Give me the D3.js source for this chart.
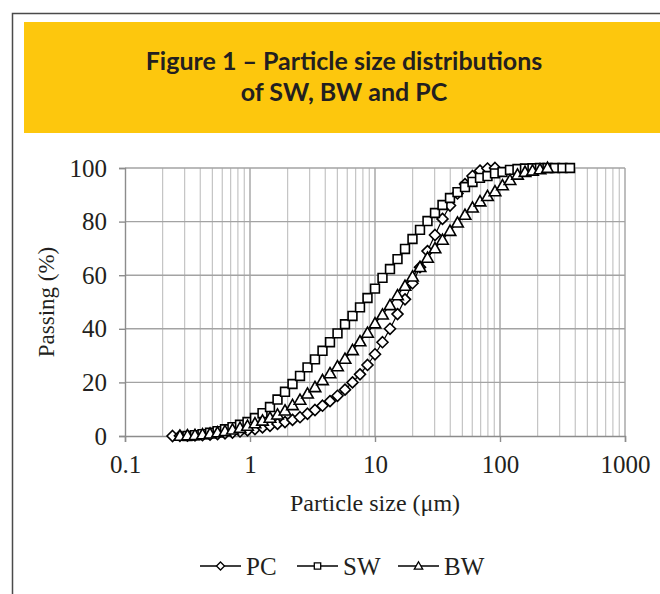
<!DOCTYPE html>
<html>
<head>
<meta charset="utf-8">
<script src="https://cdn.jsdelivr.net/npm/d3@7"></script>
<style>
  body { margin: 0; background: #fff; }
  svg { display: block; }
</style>
</head>
<body>
<svg id="chart"></svg>
<script>
// particle sizes (um), one row per measurement channel
const sizes = [0.240,0.275,0.316,0.363,0.417,0.479,0.550,0.631,0.724,0.832,
  0.955,1.096,1.259,1.445,1.660,1.905,2.188,2.512,2.884,3.311,
  3.802,4.365,5.012,5.754,6.607,7.586,8.710,10.00,11.48,13.18,
  15.14,17.38,19.95,22.91,26.30,30.20,34.67,39.81,45.71,52.48,
  60.26,69.18,79.43,91.20,104.7,120.2,138.0,158.5,182.0,208.9,
  239.9,275.4,316.2,363.1];

// cumulative passing (%), null where the series has no point
const pc = [0,0.05,0.1,0.2,0.3,0.5,0.7,1.0,1.3,1.7,
  2.1,2.6,3.2,3.8,4.5,5.2,6.0,7.0,8.3,9.7,
  11.3,13.0,15.0,17.3,20.0,23.0,26.5,30.5,35.0,40.0,
  45.5,51.0,57.0,63.0,69.0,75.0,81.0,86.0,90.5,94.0,
  97.0,99.0,99.8,100,null,null,null,null,null,null,
  null,null,null,null];
const sw = [null,null,0,0.3,0.7,1.2,1.8,2.5,3.3,4.2,
  5.2,6.7,8.5,10.8,13.6,16.5,19.4,22.4,25.6,28.6,
  31.8,35.0,38.3,41.7,44.8,48.0,51.5,55.0,59.0,62.3,
  66.0,69.8,73.5,76.9,80.2,83.2,86.2,88.8,91.0,92.9,
  94.8,96.3,97.0,98.0,98.5,99.3,99.6,99.8,99.9,100,
  100,100,100,100];
const bw = [null,0.05,0.2,0.35,0.6,0.9,1.3,1.8,2.4,3.0,
  3.8,4.7,5.7,6.8,8.0,9.5,11.5,13.5,15.8,18.2,
  20.8,23.4,26.0,28.8,32.0,35.3,38.5,42.0,45.3,48.8,
  52.5,56.0,59.5,63.0,66.5,70.0,73.2,76.5,79.6,82.5,
  85.2,87.5,89.5,91.3,93.5,95.5,97.5,98.5,99.0,99.5,
  100,null,null,null];

const seriesNames = ['PC', 'SW', 'BW'];
const seriesShapes = ['diamond', 'square', 'triangle'];
const xTicks = [0.1, 1, 10, 100, 1000];
const yTicks = [0, 20, 40, 60, 80, 100];
const titleLines = ['Figure 1 \u2013 Particle size distributions', 'of SW, BW and PC'];

class SizeChart {
  constructor(_config) {
    this.config = {
      parentElement: _config.parentElement,
      containerWidth: _config.containerWidth || 660,
      containerHeight: _config.containerHeight || 594,
      margin: { top: 168, bottom: 158, right: 35, left: 125 }
    };
    this.series = seriesNames.map((name, i) => ({
      name: name,
      shape: seriesShapes[i],
      values: [pc, sw, bw][i]
        .map((v, j) => ({ x: sizes[j], y: v }))
        .filter(d => d.y !== null)
    }));
    this.initVis();
  }

  symbolPath(shape, r) {
    if (shape === 'diamond') return `M0,${-r}L${r},0L0,${r}L${-r},0Z`;
    if (shape === 'square') return `M${-r*0.8},${-r*0.8}H${r*0.8}V${r*0.8}H${-r*0.8}Z`;
    return `M0,${-r*1.05}L${r*1.05},${r*0.8}L${-r*1.05},${r*0.8}Z`;
  }

  initVis() {
    let vis = this;
    const W = vis.config.containerWidth, H = vis.config.containerHeight;
    vis.width = W - vis.config.margin.left - vis.config.margin.right;
    vis.height = H - vis.config.margin.top - vis.config.margin.bottom;

    vis.svg = d3.select(vis.config.parentElement)
      .attr('width', W)
      .attr('height', H);

    // frame + yellow title band
    vis.svg.append('path')
      .attr('d', `M12.5,${H}V13.5H${W}`)
      .attr('fill', 'none')
      .attr('stroke', '#4a4a4a')
      .attr('stroke-width', 1.5);
    vis.svg.append('rect')
      .attr('x', 24).attr('y', 22)
      .attr('width', W - 24).attr('height', 111)
      .attr('fill', '#fdc70d');
    vis.svg.selectAll('.title')
      .data(titleLines)
      .enter()
    .append('text')
      .attr('class', 'title')
      .attr('x', 344)
      .attr('y', (d, i) => 70 + i * 31)
      .attr('text-anchor', 'middle')
      .attr('font-family', 'Lato, sans-serif')
      .attr('font-weight', 700)
      .attr('font-size', '25px')
      .attr('fill', '#231f20')
      .text(d => d);

    vis.xScale = d3.scaleLog()
      .domain([0.1, 1000])
      .range([0, vis.width]);
    vis.yScale = d3.scaleLinear()
      .domain([0, 100])
      .range([vis.height, 0]);

    vis.chart = vis.svg.append('g')
      .attr('transform', `translate(${vis.config.margin.left},${vis.config.margin.top})`);

    // gridlines
    const minor = [];
    [0.1, 1, 10, 100].forEach(dec => {
      for (let m = 2; m <= 9; m++) minor.push(dec * m);
    });
    vis.chart.selectAll('.vgrid')
      .data(minor)
      .enter()
    .append('line')
      .attr('class', 'vgrid')
      .attr('x1', d => vis.xScale(d)).attr('x2', d => vis.xScale(d))
      .attr('y1', 0).attr('y2', vis.height)
      .attr('stroke', '#c4c4c4')
      .attr('stroke-width', 1.2);
    vis.chart.selectAll('.vmajor')
      .data(xTicks.slice(1))
      .enter()
    .append('line')
      .attr('class', 'vmajor')
      .attr('x1', d => vis.xScale(d)).attr('x2', d => vis.xScale(d))
      .attr('y1', 0).attr('y2', vis.height)
      .attr('stroke', '#a3a3a3')
      .attr('stroke-width', 1.4);
    vis.chart.selectAll('.hgrid')
      .data(yTicks.slice(1))
      .enter()
    .append('line')
      .attr('class', 'hgrid')
      .attr('x1', 0).attr('x2', vis.width)
      .attr('y1', d => vis.yScale(d)).attr('y2', d => vis.yScale(d))
      .attr('stroke', '#a3a3a3')
      .attr('stroke-width', 1.4);

    // axes
    vis.xAxis = d3.axisBottom(vis.xScale)
      .tickValues(xTicks)
      .tickFormat(d3.format('~g'))
      .tickSize(6)
      .tickPadding(13);
    vis.yAxis = d3.axisLeft(vis.yScale)
      .tickValues(yTicks)
      .tickSize(6)
      .tickPadding(12);

    vis.xAxisG = vis.chart.append('g')
      .attr('class', 'axis x-axis')
      .attr('transform', `translate(0,${vis.height})`)
      .call(vis.xAxis);
    vis.yAxisG = vis.chart.append('g')
      .attr('class', 'axis y-axis')
      .call(vis.yAxis);

    vis.chart.selectAll('.axis path, .axis line')
      .attr('stroke', '#8c8c8c')
      .attr('stroke-width', 1.4);
    vis.chart.selectAll('.axis text')
      .attr('font-family', '"Liberation Serif", serif')
      .attr('font-size', '25px')
      .attr('fill', '#231f20');

    // axis titles
    vis.chart.append('text')
      .attr('x', vis.width / 2)
      .attr('y', vis.height + 75)
      .attr('text-anchor', 'middle')
      .attr('font-family', '"Liberation Serif", serif')
      .attr('font-size', '24px')
      .attr('fill', '#231f20')
      .text('Particle size (\u03bcm)');
    vis.chart.append('text')
      .attr('transform', `translate(-71,${vis.height / 2}) rotate(-90)`)
      .attr('text-anchor', 'middle')
      .attr('font-family', '"Liberation Serif", serif')
      .attr('font-size', '23px')
      .attr('fill', '#231f20')
      .text('Passing (%)');

    // series: thin line, then markers
    vis.line = d3.line()
      .x(d => vis.xScale(d.x))
      .y(d => vis.yScale(d.y));

    vis.series.forEach(s => {
      vis.chart.append('path')
        .datum(s.values)
        .attr('fill', 'none')
        .attr('stroke', '#000')
        .attr('stroke-width', 1.2)
        .attr('d', vis.line);
      vis.chart.selectAll('.mk-' + s.name)
        .data(s.values)
        .enter()
      .append('path')
        .attr('class', 'mk-' + s.name)
        .attr('transform', d => `translate(${vis.xScale(d.x)},${vis.yScale(d.y)})`)
        .attr('d', vis.symbolPath(s.shape, 5.5))
        .attr('fill', '#fff')
        .attr('stroke', '#000')
        .attr('stroke-width', 1.6);
    });

    // legend
    const legendX = [200, 297, 398];
    const legend = vis.svg.selectAll('.legend')
      .data(vis.series)
      .enter()
    .append('g')
      .attr('class', 'legend')
      .attr('transform', (d, i) => `translate(${legendX[i]},566)`);
    legend.append('line')
      .attr('x1', 0).attr('x2', 41)
      .attr('stroke', '#000')
      .attr('stroke-width', 1.3);
    legend.append('path')
      .attr('transform', 'translate(20.5,0)')
      .attr('d', d => vis.symbolPath(d.shape, 4))
      .attr('fill', '#fff')
      .attr('stroke', '#000')
      .attr('stroke-width', 1.3);
    legend.append('text')
      .attr('x', 46)
      .attr('y', 9)
      .attr('font-family', '"Liberation Serif", serif')
      .attr('font-size', '25px')
      .attr('fill', '#231f20')
      .text(d => d.name);
  }
}

new SizeChart({ parentElement: '#chart' });
</script>
</body>
</html>
